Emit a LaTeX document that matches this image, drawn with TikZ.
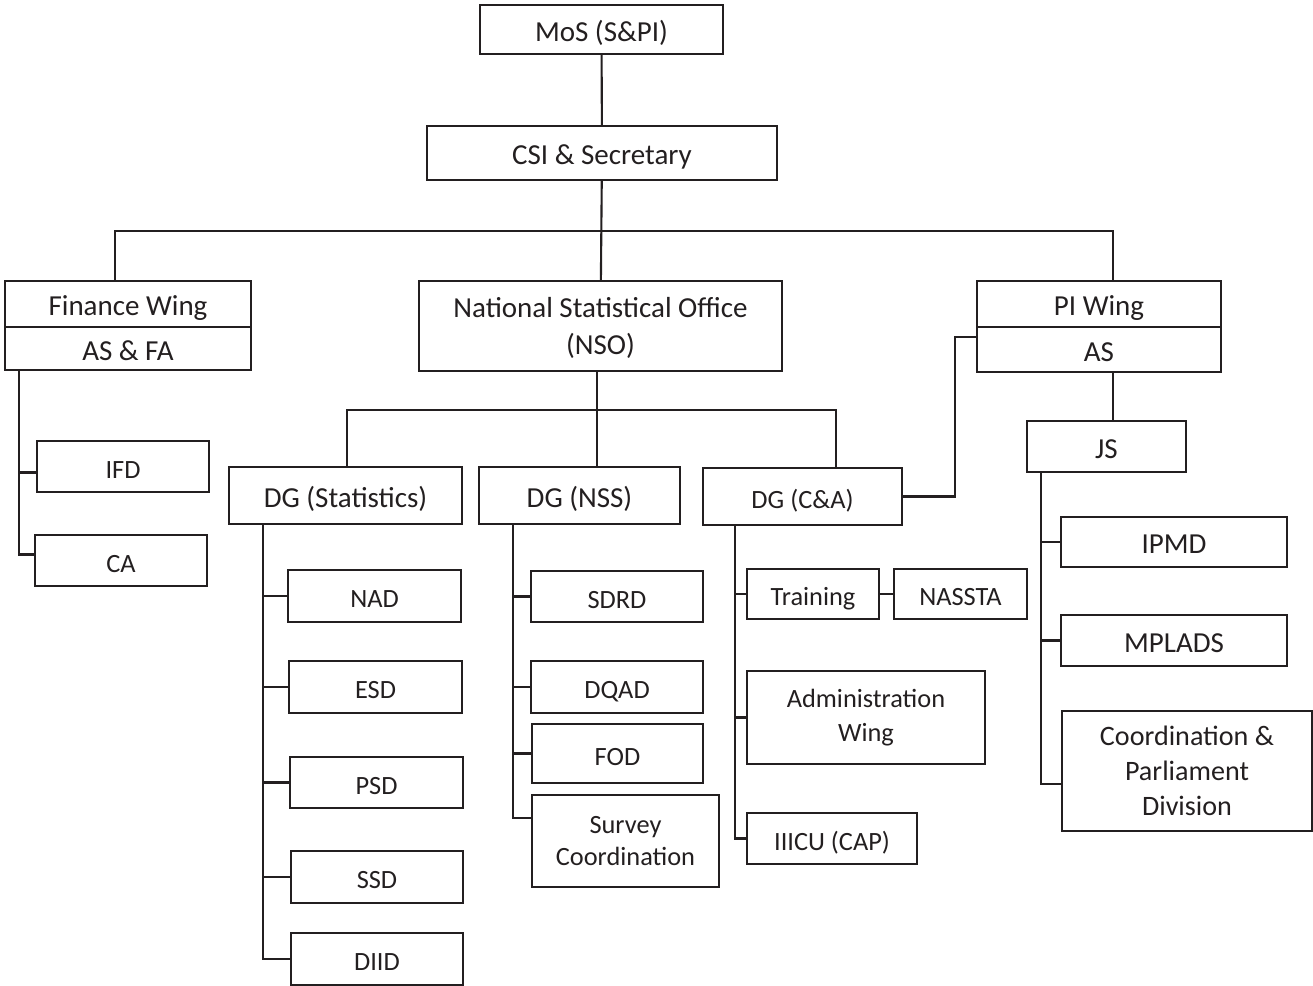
\documentclass[tikz,border=0pt]{standalone}
\usepackage{fontspec}
\setmainfont{Carlito}
\usetikzlibrary{positioning}
\definecolor{ink}{HTML}{231F20}
\tikzset{
  box/.style={draw=ink, text=ink, rectangle, outer sep=0pt, inner sep=1pt, align=center,
    text height=1.35em, text depth=0em, font=\fontsize{15}{18}\selectfont},
  multi/.style={text height={}, text depth={}},
  big/.style={font=\fontsize{16.5}{21}\selectfont},
  small/.style={font=\fontsize{15}{18}\selectfont},
}
\begin{document}
\begin{tikzpicture}[x=0.02cm, y=-0.02cm, line width=1.2pt, ink]
  \useasboundingbox (0,0) rectangle (1313,986);
  % top levels
  \node[box, big, minimum width=4.86cm, minimum height=0.98cm] (mos) at (601.5,29.5) {MoS (S\&PI)};
  \node[box, big, minimum width=7.0cm, minimum height=1.08cm] (csi) at (602,153) {CSI \& Secretary};
  \node[box, big, minimum width=4.92cm, minimum height=0.92cm] (fin) at (128,304) {Finance Wing};
  \node[box, big, minimum width=4.92cm, minimum height=0.86cm, below=0pt of fin] (finas) {AS \& FA};
  \node[box, big, multi, text depth=0pt, minimum width=7.26cm, minimum height=1.8cm] (nso) at (600.5,326) {National Statistical Office\\(NSO)};
  \node[box, big, minimum width=4.88cm, minimum height=0.92cm] (pi) at (1099,304) {PI Wing};
  \node[box, big, minimum width=4.88cm, minimum height=0.9cm, below=0pt of pi] (pias) {AS};
  % DG level
  \node[box, big, minimum width=4.66cm, minimum height=1.14cm] (dgs) at (345.5,495.5) {DG (Statistics)};
  \node[box, big, minimum width=4.02cm, minimum height=1.14cm] (dgn) at (579.5,495.5) {DG (NSS)};
  \node[box, minimum width=3.98cm, minimum height=1.14cm] (dgc) at (802.5,496.5) {DG (C\&A)};
  \node[box, big, minimum width=3.18cm, minimum height=1.02cm] (js) at (1106.5,446.5) {JS};
  % finance wing
  \node[box, small, minimum width=3.44cm, minimum height=1.02cm] (ifd) at (123,466.5) {IFD};
  \node[box, small, minimum width=3.44cm, minimum height=1.02cm] (ca) at (121,560.5) {CA};
  % statistics
  \node[box, minimum width=3.46cm, minimum height=1.04cm] (nad) at (374.5,596) {NAD};
  \node[box, minimum width=3.46cm, minimum height=1.04cm] (esd) at (375.5,687) {ESD};
  \node[box, minimum width=3.46cm, minimum height=1.02cm] (psd) at (376.5,782.5) {PSD};
  \node[box, minimum width=3.44cm, minimum height=1.04cm] (ssd) at (377,877) {SSD};
  \node[box, minimum width=3.44cm, minimum height=1.04cm] (diid) at (377,959) {DIID};
  % nss
  \node[box, minimum width=3.44cm, minimum height=1.02cm] (sdrd) at (617,596.5) {SDRD};
  \node[box, minimum width=3.44cm, minimum height=1.04cm] (dqad) at (617,687) {DQAD};
  \node[box, minimum width=3.42cm, minimum height=1.18cm] (fod) at (617.5,753.5) {FOD};
  \node[box, multi, minimum width=3.74cm, minimum height=1.84cm] (svy) at (625.5,841) {Survey\\Coordination};
  % c&a
  \node[box, minimum width=2.64cm, minimum height=1.0cm] (trn) at (813,594) {Training};
  \node[box, minimum width=2.66cm, minimum height=1.0cm] (nassta) at (960.5,594) {NASSTA};
  \node[box, multi, font=\fontsize{15}{19}\selectfont, minimum width=4.76cm, minimum height=1.86cm] (adm) at (866,717.5) {Administration\\Wing};
  \node[box, minimum width=3.4cm, minimum height=1.02cm] (iiicu) at (832,838.5) {IIICU (CAP)};
  % pi wing
  \node[box, big, minimum width=4.52cm, minimum height=1.0cm] (ipmd) at (1174,542) {IPMD};
  \node[box, big, minimum width=4.52cm, minimum height=1.02cm] (mplads) at (1174,640.5) {MPLADS};
  \node[box, multi, text depth=-0.35em, font=\fontsize{16}{20}\selectfont, minimum width=5.0cm, minimum height=2.4cm] (coord) at (1187,771) {Coordination \&\\Parliament\\Division};

  % connectors
  \coordinate (busl) at (115,231);
  \coordinate (busr) at (1113,231);
  \coordinate (nbl) at (347,410);
  \coordinate (nbm) at (597,410);
  \coordinate (nbr) at (836,410);
  \coordinate (cpi) at (955,337);
  \coordinate (ftrunk) at (19,370);
  \coordinate (strunk) at (263,524);
  \coordinate (ntrunk) at (513,524);
  \coordinate (ctrunk) at (735,525);
  \coordinate (jtrunk) at (1041,472);
  \draw (mos) -- (csi);
  \draw (csi) -- (nso);
  \draw (busl |- fin.north) -- (busl) -- (busr) -- (busr |- pi.north);
  \draw (nbl |- dgs.north) -- (nbl) -- (nbr) -- (nbr |- dgc.north);
  \draw (nbm |- nso.south) -- (nbm |- dgn.north);
  \draw (dgc.east) -| (cpi) -- (cpi -| pi.west);
  \draw (busr |- pias.south) -- (busr |- js.north);
  \draw (trn) -- (nassta);
  \draw (ftrunk) |- ([yshift=-0.12cm]ifd.west);
  \draw (ftrunk) |- ([yshift=0.12cm]ca.west);
  \foreach \c in {nad,esd,psd,ssd,diid} \draw (strunk) |- (\c.west);
  \foreach \c in {sdrd,dqad,fod} \draw (ntrunk) |- (\c.west);
  \draw (ntrunk) |- ([yshift=0.46cm]svy.west);
  \foreach \c in {trn,adm,iiicu} \draw (ctrunk) |- (\c.west);
  \foreach \c in {ipmd,mplads} \draw (jtrunk) |- (\c.west);
  \draw (jtrunk) |- ([yshift=-0.26cm]coord.west);
\end{tikzpicture}
\end{document}
